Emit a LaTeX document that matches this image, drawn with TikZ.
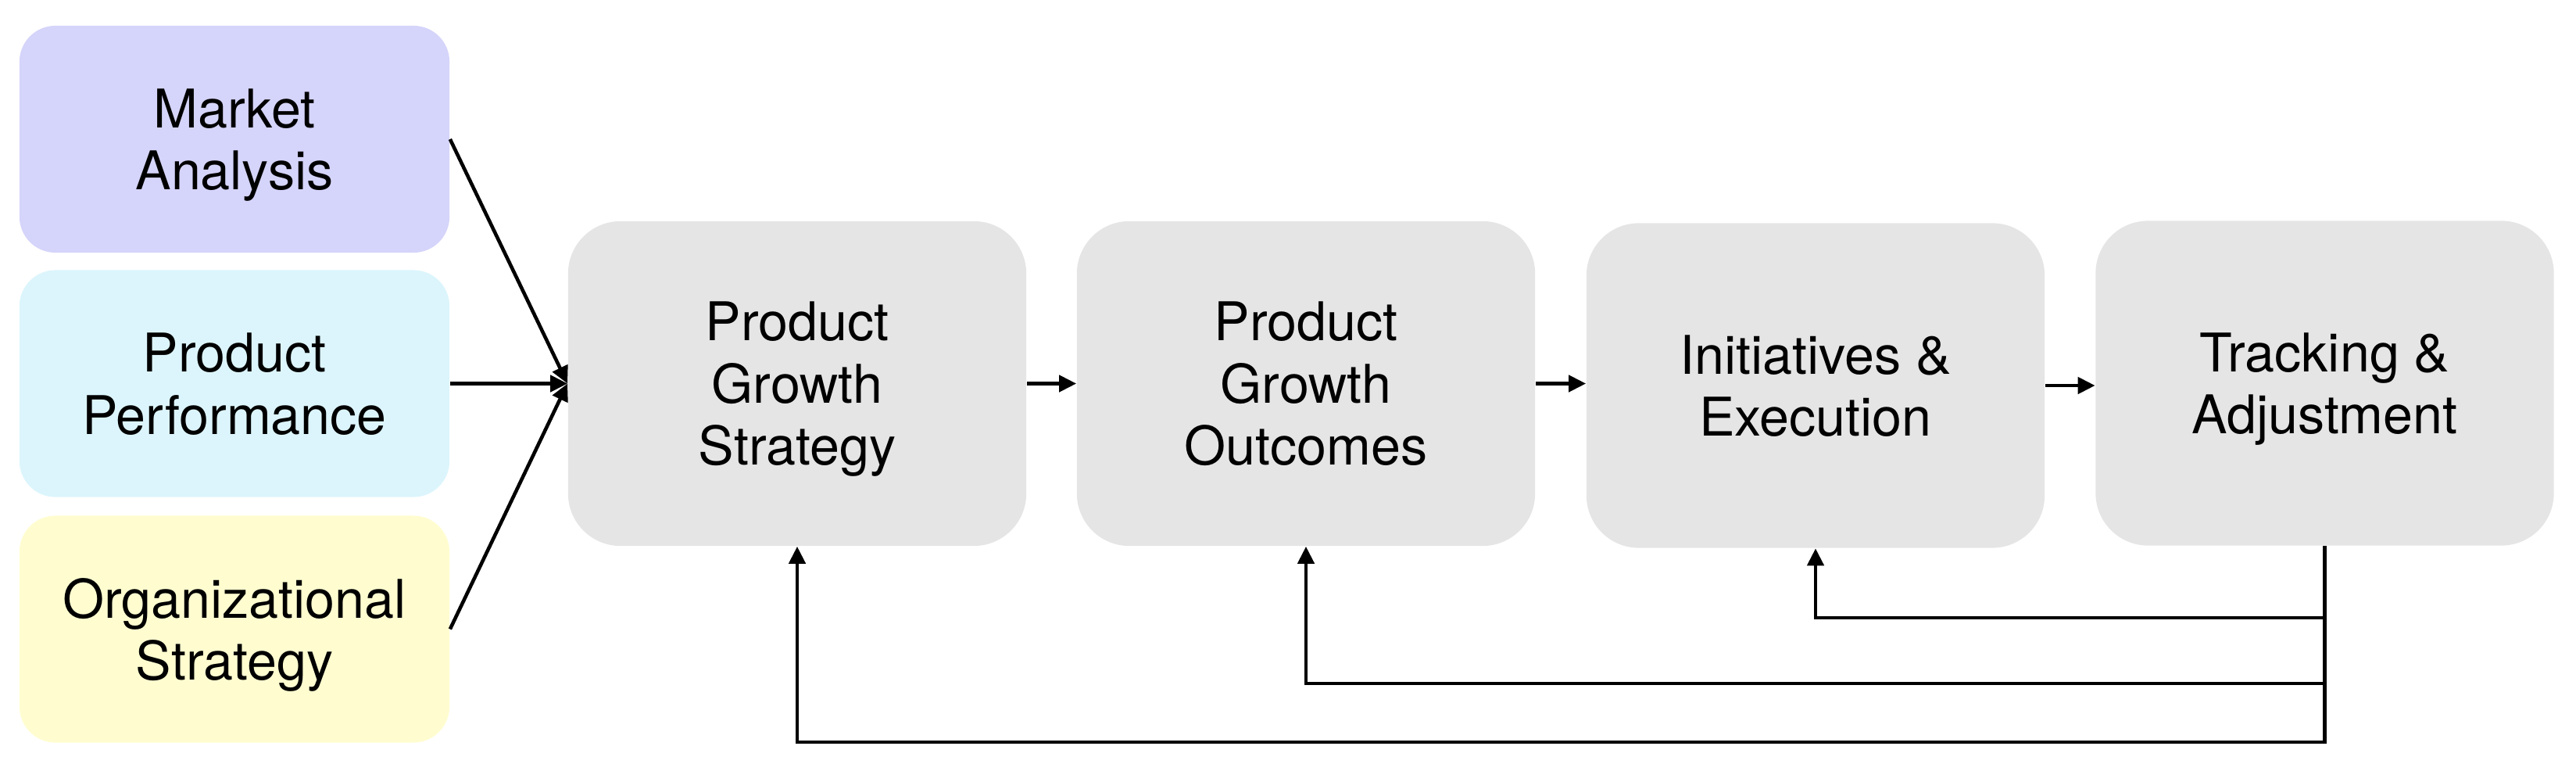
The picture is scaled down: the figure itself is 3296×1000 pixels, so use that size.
\documentclass[tikz,border=0pt]{standalone}
\usepackage{fontspec}
\setmainfont{TeX Gyre Heros}
\usetikzlibrary{arrows.meta}
\definecolor{lavbox}{RGB}{213,212,250}
\definecolor{cyanbox}{RGB}{220,245,252}
\definecolor{yelbox}{RGB}{255,253,208}
\definecolor{graybox}{RGB}{229,229,229}
\tikzset{
  txt/.style={align=center, font=\fontsize{19.4}{22.6}\selectfont, inner sep=0pt, text depth=0pt},
  inbox/.style={txt, rectangle, rounded corners=0.46cm, minimum width=5.5cm, minimum height=2.9cm},
  stagebox/.style={txt, rectangle, rounded corners=0.67cm, minimum width=5.86cm, minimum height=4.15cm, fill=graybox},
  arr/.style={line width=1.3pt, -{Triangle[length=0.22cm,width=0.21cm]}}
}
\begin{document}
\begin{tikzpicture}[x=0.01cm,y=-0.01cm]
\useasboundingbox (0,0) rectangle (3296,1000);
\node[inbox, fill=lavbox] (ma) at (300,178) {Market\\Analysis};
\node[inbox, fill=cyanbox] (pp) at (300,490.5) {Product\\Performance};
\node[inbox, fill=yelbox] (os) at (300,804.5) {Organizational\\Strategy};
\node[stagebox] (s1) at (1020,490.5) {Product\\Growth\\Strategy};
\node[stagebox] (s2) at (1671,490.5) {Product\\Growth\\Outcomes};
\node[stagebox] (s3) at (2323,493) {Initiatives \&\\Execution};
\node[stagebox] (s4) at (2974.5,490) {Tracking \&\\Adjustment};
\draw[arr] (ma.east) -- (s1.west);
\draw[arr] (pp.east) -- (s1.west);
\draw[arr] (os.east) -- (s1.west);
\draw[arr] (s1.east) -- (s1.east -| s2.west);
\draw[arr] (s2.east) -- (s2.east -| s3.west);
\draw[arr] (s3.east) -- (s3.east -| s4.west);
\coordinate (b1) at (2974.5,949);
\coordinate (b2) at (2974.5,874);
\coordinate (b3) at (2974.5,790);
\draw[arr] (s4.south) -- (b1) -| (s1.south);
\draw[arr] (b2) -| (s2.south);
\draw[arr] (b3) -| (s3.south);
\end{tikzpicture}
\end{document}
